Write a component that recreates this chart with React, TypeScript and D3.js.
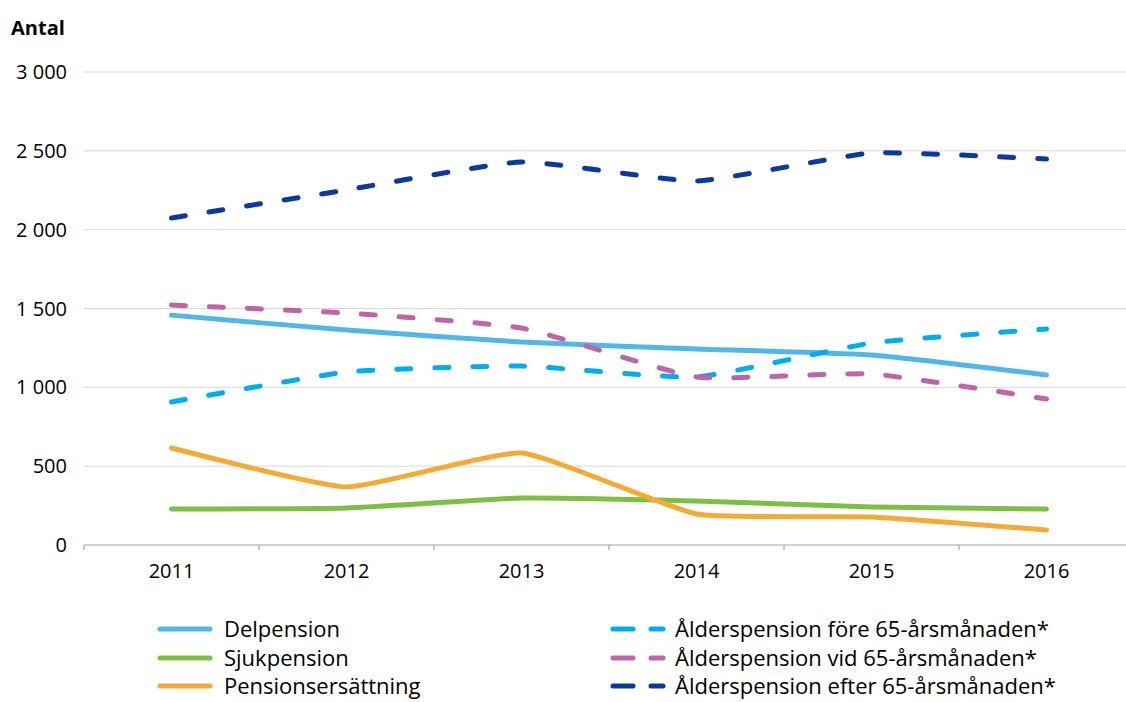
import React from 'react';
import * as d3 from 'd3';

// antal per år och pensionstyp
const years = ['2011', '2012', '2013', '2014', '2015', '2016'];
const delpension = [1458, 1363, 1287, 1243, 1205, 1078];
const sjukpension = [228, 235, 298, 279, 241, 228];
const pensionsersattning = [615, 368, 583, 197, 178, 95];
const aldersForeValues = [907, 1097, 1135, 1066, 1281, 1370];
const aldersVidValues = [1522, 1471, 1376, 1066, 1085, 926];
const aldersEfterValues = [2074, 2252, 2429, 2309, 2486, 2448];
const yTicks = [0, 500, 1000, 1500, 2000, 2500, 3000];

const series = [
  { name: 'Delpension', values: delpension, color: '#4fb7e9', dashed: false, col: 0, row: 0 },
  { name: 'Sjukpension', values: sjukpension, color: '#7cbf43', dashed: false, col: 0, row: 1 },
  { name: 'Pensionsersättning', values: pensionsersattning, color: '#f5ab33', dashed: false, col: 0, row: 2 },
  { name: 'Ålderspension före 65-årsmånaden*', values: aldersForeValues, color: '#00aeef', dashed: true, col: 1, row: 0 },
  { name: 'Ålderspension vid 65-årsmånaden*', values: aldersVidValues, color: '#c064a7', dashed: true, col: 1, row: 1 },
  { name: 'Ålderspension efter 65-årsmånaden*', values: aldersEfterValues, color: '#0a3aa0', dashed: true, col: 1, row: 2 },
];

const font = '"Open Sans", "Noto Sans", sans-serif';

const App = () => {
  let width = 1126;
  let height = 702;
  let plotLeft = 84;
  let plotRight = 1134;
  let plotTop = 72;
  let plotBottom = 545;

  let xScale = d3.scaleBand()
    .domain(years)
    .range([plotLeft, plotRight]);

  let yScale = d3.scaleLinear()
    .domain([0, 3000])
    .range([plotBottom, plotTop]);

  let line = d3.line<number>()
    .x((d, i) => xScale(years[i])! + xScale.bandwidth() / 2)
    .y((d) => yScale(d))
    .curve(d3.curveCardinal.tension(0.55));

  let fmt = (v: number) => d3.format(',')(v).replace(',', ' ');

  let boundaries = years.map((y) => xScale(y)!).concat([plotRight]);

  let legendX = [160, 613];
  let legendText = [224, 675];
  let legendY = [629, 658, 686];

  return (
    <svg width={width} height={height} style={{ position: 'absolute', left: 0, top: 0 }}>
      <text x={11} y={35} fontFamily={font} fontWeight={700} fontSize={20} fill="#000">Antal</text>
      {yTicks.map((t) => (
        <g key={t}>
          {t > 0 && (
            <line x1={plotLeft} x2={plotRight} y1={yScale(t)} y2={yScale(t)} stroke="#d9d9d9" strokeWidth={1} />
          )}
          <text x={67} y={yScale(t)} dy="0.35em" textAnchor="end" fontFamily={font} fontSize={20} fill="#000">
            {fmt(t)}
          </text>
        </g>
      ))}
      <line x1={plotLeft} x2={plotRight} y1={plotBottom} y2={plotBottom} stroke="#a6a6a6" strokeWidth={1.2} />
      {boundaries.map((b, i) => (
        <line key={i} x1={b} x2={b} y1={plotBottom} y2={plotBottom + 5} stroke="#a6a6a6" strokeWidth={1.2} />
      ))}
      {years.map((y) => (
        <text key={y} x={xScale(y)! + xScale.bandwidth() / 2} y={578} textAnchor="middle" fontFamily={font} fontSize={20} fill="#000">
          {y}
        </text>
      ))}
      {series.map((s) => (
        <path
          key={s.name}
          d={line(s.values)!}
          fill="none"
          stroke={s.color}
          strokeWidth={5}
          strokeLinecap="round"
          strokeDasharray={s.dashed ? '14,24' : undefined}
        />
      ))}
      {series.map((s) => (
        <g key={'lg' + s.name}>
          <line
            x1={legendX[s.col]}
            x2={legendX[s.col] + 50}
            y1={legendY[s.row]}
            y2={legendY[s.row]}
            stroke={s.color}
            strokeWidth={5}
            strokeLinecap="round"
            strokeDasharray={s.dashed ? '20,18' : undefined}
          />
          <text x={legendText[s.col]} y={legendY[s.row]} dy="0.35em" fontFamily={font} fontSize={22} fill="#000">
            {s.name}
          </text>
        </g>
      ))}
    </svg>
  );
};

export default App;
